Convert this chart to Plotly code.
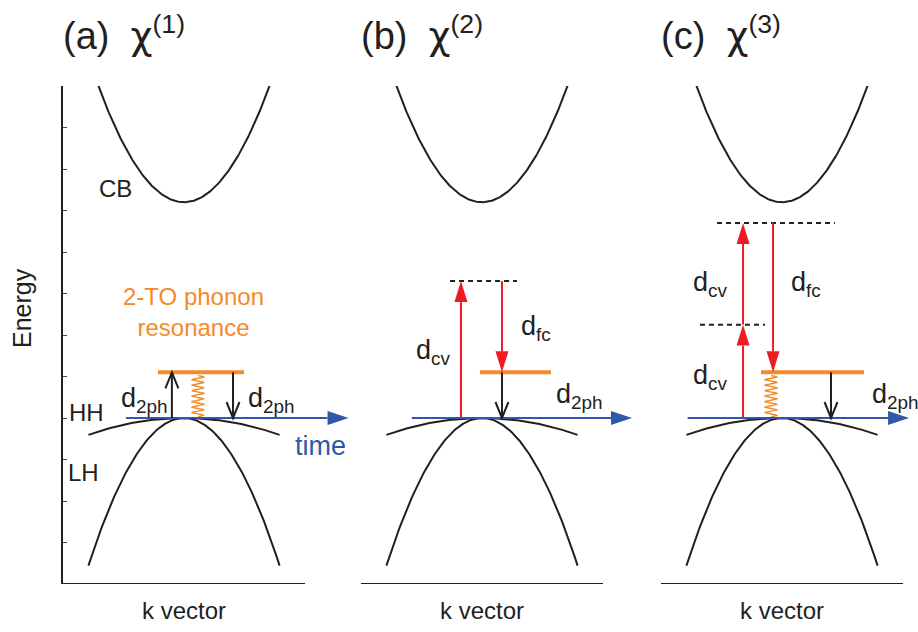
import numpy as np
import plotly.graph_objects as go

W, H = 918, 632

# ---------------- data ----------------
panel_tags = ["(a)", "(b)", "(c)"]
chi_orders = ["1", "2", "3"]
energy_ticks = list(range(0, 13))      # energy axis (arb. units)
k_extent = [-1.0, 1.0]                 # k-vector span drawn under each panel

E_VB = 4.0       # HH / LH band maximum
E_CB = 9.2       # conduction band minimum
E_2TO = 5.1      # 2-TO phonon resonance level
curv_CB = 5.6
curv_HH = 0.65
curv_LH = 5.7
k_CB_span = 0.72
k_VB_span = 0.79

E_virt_b = [7.3]            # virtual level, chi(2)
E_virt_c = [6.25, 8.70]     # virtual levels, chi(3)

# time axis drawn along the valence band top
time_start_k = [-0.48, -0.58, -0.78]
time_end_k = [1.36, 1.24, 1.05]

# 2-TO phonon resonance bar
bar_left_k = [-0.215, -0.017, -0.174]
bar_right_k = [0.496, 0.570, 0.678]

# phonon coupling spring (panel b has none)
spring_panel = [0, 2]
spring_k = [0.116, -0.091]

# dashed virtual levels
dash_panel = [1, 2, 2]
dash_E = [E_virt_b[0], E_virt_c[0], E_virt_c[1]]
dash_k_left = [-0.264, -0.678, -0.537]
dash_k_right = [0.289, -0.140, 0.438]

# black d_2ph transitions
d2ph_panel = [0, 0, 1, 2]
d2ph_k = [-0.10, 0.405, 0.165, 0.405]
d2ph_from = [E_VB, E_2TO, E_2TO, E_2TO]
d2ph_to = [E_2TO, E_VB, E_VB, E_VB]

# red d_cv / d_fc transitions
red_panel = [1, 1, 2, 2, 2]
red_k = [-0.174, 0.165, -0.322, -0.322, -0.074]
red_from = [E_VB, E_virt_b[0], E_VB, E_virt_c[0], E_virt_c[1]]
red_to = [E_virt_b[0], E_2TO, E_virt_c[0], E_virt_c[1], E_2TO]

# ---------------- styling / layout ----------------
BLACK = "#231F20"
RED = "#ED1C24"
ORANGE = "#F58A28"
BLUE = "#2F58A8"
FONT = "Liberation Sans, Arial, Helvetica, sans-serif"

x_dom_px = [(63, 359), (361, 657), (661, 918)]
y_dom_px = (86, 584)
PX_PER_K = 121.0
PX_PER_E = (y_dom_px[1] - y_dom_px[0]) / (energy_ticks[-1] - energy_ticks[0])

XREF = ["x", "x2", "x3"]


def px(x, y):
    return x / W, 1 - y / H


fig = go.Figure()
shapes = []
annotations = []


def seg(p, x0, y0, x1, y1, color, width, dash=None):
    line = dict(color=color, width=width)
    if dash:
        line["dash"] = dash
    shapes.append(dict(type="line", xref=XREF[p], yref="y", x0=x0, y0=y0,
                       x1=x1, y1=y1, line=line, layer="above"))


def path(p, pts, color=None, fill=None, width=2):
    d = "M " + " L ".join(f"{a:.4f},{b:.4f}" for a, b in pts)
    if fill:
        d += " Z"
    shapes.append(dict(type="path", xref=XREF[p], yref="y", path=d,
                       fillcolor=fill if fill else "rgba(0,0,0,0)",
                       line=dict(color=color if color else fill, width=width if color else 0),
                       layer="above"))


def filled_vertical_arrow(p, k, e0, e1, color, head_px=21, half_px=6.5, width=2):
    sgn = 1 if e1 > e0 else -1
    hl = head_px / PX_PER_E
    hw = half_px / PX_PER_K
    seg(p, k, e0, k, e1 - sgn * hl, color, width)
    path(p, [(k, e1), (k - hw, e1 - sgn * hl), (k + hw, e1 - sgn * hl)], fill=color)


def open_vertical_arrow(p, k, e0, e1, color, head_px=16, half_px=6.5, width=2):
    sgn = 1 if e1 > e0 else -1
    seg(p, k, e0, k, e1, color, width)
    hl = head_px / PX_PER_E
    hw = half_px / PX_PER_K
    path(p, [(k - hw, e1 - sgn * hl), (k, e1), (k + hw, e1 - sgn * hl)],
         color=color, width=width)


for p in range(3):
    xa = XREF[p]
    # conduction band
    kc = np.linspace(-k_CB_span, k_CB_span, 201)
    fig.add_trace(go.Scatter(x=kc, y=E_CB + curv_CB * kc ** 2, mode="lines",
                             line=dict(color=BLACK, width=2), xaxis=xa, yaxis="y",
                             hoverinfo="skip", showlegend=False))
    # heavy / light hole bands
    kv = np.linspace(-k_VB_span, k_VB_span, 201)
    for c in (curv_HH, curv_LH):
        fig.add_trace(go.Scatter(x=kv, y=E_VB - c * kv ** 2, mode="lines",
                                 line=dict(color=BLACK, width=2), xaxis=xa, yaxis="y",
                                 hoverinfo="skip", showlegend=False))
    # k-vector baseline
    seg(p, k_extent[0], energy_ticks[0], k_extent[1], energy_ticks[0], BLACK, 2.2)

# phonon springs
for p, k in zip(spring_panel, spring_k):
    t = np.linspace(0, 1, 400)
    e = E_VB + 0.03 + t * (E_2TO - 0.08 - E_VB - 0.03)
    amp = 6.0 / PX_PER_K
    fig.add_trace(go.Scatter(x=k + amp * np.sin(2 * np.pi * 7.5 * t), y=e, mode="lines",
                             line=dict(color=ORANGE, width=1.4), xaxis=XREF[p], yaxis="y",
                             hoverinfo="skip", showlegend=False))

# time arrows
for p in range(3):
    hl = 21 / PX_PER_K
    hw = 7 / PX_PER_E
    seg(p, time_start_k[p], E_VB, time_end_k[p] - hl, E_VB, BLUE, 2)
    path(p, [(time_end_k[p], E_VB), (time_end_k[p] - hl, E_VB + hw),
             (time_end_k[p] - hl, E_VB - hw)], fill=BLUE)

# dashed virtual levels
for p, e, k0, k1 in zip(dash_panel, dash_E, dash_k_left, dash_k_right):
    seg(p, k0, e, k1, e, BLACK, 2, dash="5px,4px")

# 2-TO resonance bars
for p in range(3):
    seg(p, bar_left_k[p], E_2TO, bar_right_k[p], E_2TO, ORANGE, 4)

# red transitions
for p, k, e0, e1 in zip(red_panel, red_k, red_from, red_to):
    filled_vertical_arrow(p, k, e0, e1, RED)

# black d_2ph transitions
for p, k, e0, e1 in zip(d2ph_panel, d2ph_k, d2ph_from, d2ph_to):
    open_vertical_arrow(p, k, e0, e1, BLACK)


# ---------------- text ----------------
def label(text, x, y, size=24, color=BLACK, xanchor="left", yanchor="middle", angle=0):
    ax, ay = px(x, y)
    annotations.append(dict(text=text, x=ax, y=ay, xref="paper", yref="paper",
                            xanchor=xanchor, yanchor=yanchor, showarrow=False,
                            textangle=angle,
                            font=dict(family=FONT, size=size, color=color)))


CHI = '<span style="font-family:DejaVu Sans">\u03c7</span>'
for p in range(3):
    label(f"{panel_tags[p]}\u00a0\u00a0{CHI}<sup>({chi_orders[p]})</sup>",
          x_dom_px[p][0] - 2, 34, size=38)
    label("k vector", x_dom_px[p][0] + PX_PER_K, 610, size=24, xanchor="center")

label("Energy", 22, 308, size=25, xanchor="center", angle=-90)
label("CB", 97, 188)
label("HH", 67, 412)
label("LH", 66, 472)
label("time", 293, 446, size=27, color=BLUE)
label("2-TO phonon<br>resonance", 121, 312, size=24, color=ORANGE)

D = 27
label("d<sub>2ph</sub>", 119, 400, size=D)
label("d<sub>2ph</sub>", 246, 400, size=D)
label("d<sub>cv</sub>", 414, 352, size=D)
label("d<sub>fc</sub>", 519, 328, size=D)
label("d<sub>2ph</sub>", 554, 396, size=D)
label("d<sub>cv</sub>", 691, 284, size=D)
label("d<sub>fc</sub>", 789, 284, size=D)
label("d<sub>cv</sub>", 691, 377, size=D)
label("d<sub>2ph</sub>", 870, 396, size=D)

# ---------------- axes ----------------
layout = dict(width=W, height=H, margin=dict(l=0, r=0, t=0, b=0),
              paper_bgcolor="white", plot_bgcolor="rgba(0,0,0,0)",
              shapes=shapes, annotations=annotations, showlegend=False)

for p in range(3):
    x0, x1 = x_dom_px[p]
    name = "xaxis" if p == 0 else f"xaxis{p + 1}"
    layout[name] = dict(domain=[x0 / W, x1 / W],
                        range=[k_extent[0], k_extent[0] + (x1 - x0) / PX_PER_K],
                        anchor="y", visible=False, fixedrange=True)

layout["yaxis"] = dict(domain=[1 - y_dom_px[1] / H, 1 - y_dom_px[0] / H],
                       range=[energy_ticks[0], energy_ticks[-1]], anchor="x",
                       showline=True, linecolor=BLACK, linewidth=2,
                       ticks="inside", ticklen=4, tickwidth=1, tickcolor="#444",
                       tickvals=energy_ticks, showticklabels=False,
                       showgrid=False, zeroline=False, fixedrange=True)

fig.update_layout(**layout)
fig.write_html("out.html")
